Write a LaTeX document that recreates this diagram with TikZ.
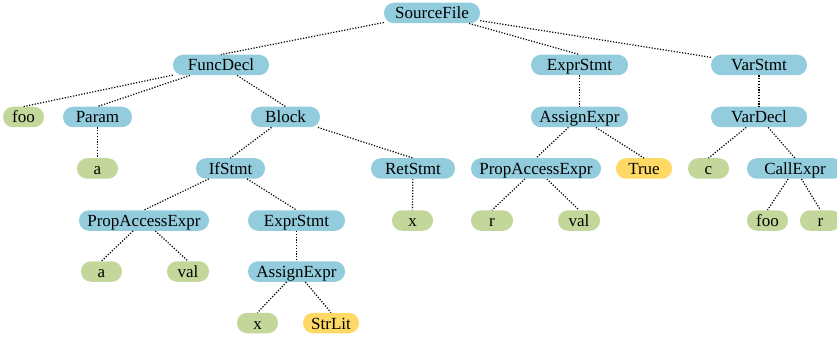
\documentclass[tikz,border=0pt]{standalone}
\usepackage{fontspec}
\setmainfont{Liberation Serif}
\definecolor{inner}{HTML}{93CDDD}
\definecolor{leaf}{HTML}{C4D79B}
\definecolor{lit}{HTML}{FFD966}
\begin{document}
\begin{tikzpicture}[x=1pt,y=-1pt,
  base/.style={rounded corners=10pt, minimum height=20.5pt, inner ysep=0pt, inner xsep=2pt,
    text height=13pt, text depth=1pt,
    font=\fontsize{17}{20}\selectfont, text=black},
  in/.style={base, fill=inner, minimum width=#1},
  lf/.style={base, fill=leaf, minimum width=#1},
  lt/.style={base, fill=lit, minimum width=#1},
  edge/.style={line width=1.2pt, dash pattern=on 1.2pt off 1.6pt}]
\useasboundingbox (0,0) rectangle (837,339);
\clip (0,0) rectangle (837,339);
\node[in=96pt] (sf) at (432,13) {SourceFile};
\node[in=96pt] (fd) at (221,65) {FuncDecl};
\node[in=97pt] (es1) at (579.5,65) {ExprStmt};
\node[in=96pt] (vs) at (759,65) {VarStmt};
\node[lf=41pt] (foo1) at (23.5,117) {foo};
\node[in=69pt] (par) at (97.5,117) {Param};
\node[in=69pt] (blk) at (285.5,117) {Block};
\node[in=97pt] (ae1) at (579.5,117) {AssignExpr};
\node[in=96pt] (vd) at (759,117) {VarDecl};
\node[lf=41pt] (a1) at (97.5,168.5) {a};
\node[in=69pt] (if) at (230.5,168.5) {IfStmt};
\node[in=84pt] (ret) at (413,168.5) {RetStmt};
\node[in=130pt] (pae1) at (536,168.5) {PropAccessExpr};
\node[lt=56pt] (true) at (644,168.5) {True};
\node[lf=41pt] (c) at (708.5,168.5) {c};
\node[in=96pt] (call) at (795,168.5) {CallExpr};
\node[in=130pt] (pae2) at (144,220.5) {PropAccessExpr};
\node[in=97pt] (es2) at (296.5,220.5) {ExprStmt};
\node[lf=41pt] (x1) at (412.5,220.5) {x};
\node[lf=42pt] (r1) at (492,220.5) {r};
\node[lf=42pt] (val1) at (579,220.5) {val};
\node[lf=41pt] (foo2) at (767.5,220.5) {foo};
\node[lf=41pt] (r2) at (820.5,220.5) {r};
\node[lf=41pt] (a2) at (101.5,271.5) {a};
\node[lf=42pt] (val2) at (188,271.5) {val};
\node[in=97pt] (ae2) at (296.5,271.5) {AssignExpr};
\node[lf=41pt] (x2) at (257.5,323) {x};
\node[lt=56pt] (str) at (331,323) {StrLit};
% edges
\draw[edge] (sf) -- (fd.north);
\draw[edge] (sf) -- (es1.north);
\draw[edge] (sf) -- (vs);
\draw[edge] (fd) -- (foo1.north);
\draw[edge] (fd) -- (par.north);
\draw[edge] (fd) -- (blk.north);
\draw[edge] (par) -- (a1.north);
\draw[edge] (blk) -- (if.north);
\draw[edge] (blk) -- (ret.north);
\draw[edge] (if) -- (pae2.north);
\draw[edge] (if) -- (es2.north);
\draw[edge] (pae2) -- (a2.north);
\draw[edge] (pae2) -- (val2.north);
\draw[edge] (es2) -- (ae2.north);
\draw[edge] (ae2) -- (x2.north);
\draw[edge] (ae2) -- (str.north);
\draw[edge] (ret) -- (x1.north);
\draw[edge] (es1) -- (ae1.north);
\draw[edge] (ae1) -- (pae1.north);
\draw[edge] (ae1) -- (true.north);
\draw[edge] (pae1) -- (r1.north);
\draw[edge] (pae1) -- (val1.north);
\draw[edge] (vs) -- (vd.north);
\draw[edge] (vd) -- (c.north);
\draw[edge] (vd) -- (call.north);
\draw[edge] (call) -- (foo2.north);
\draw[edge] (call) -- (r2.north);
\end{tikzpicture}
\end{document}
